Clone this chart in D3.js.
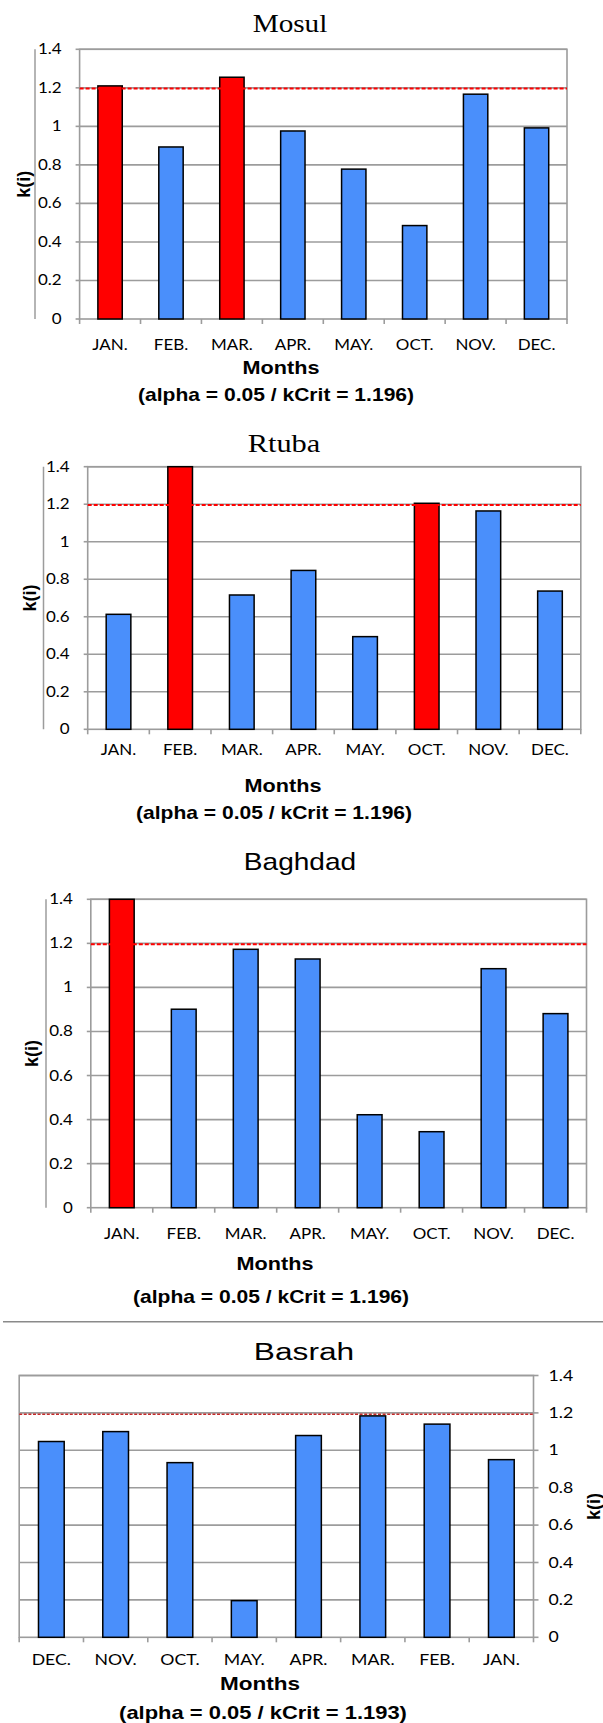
<!DOCTYPE html>
<html>
<head>
<meta charset="utf-8">
<script src="https://cdn.jsdelivr.net/npm/d3@7"></script>
<style>
  body { margin: 0; background: #fff; }
  svg { display: block; }
</style>
</head>
<body>
<div id="chart"></div>
<script>
"use strict";

// ---- data ----
const stationNames = ["Mosul", "Rtuba", "Baghdad", "Basrah"];
const monthsForward = ["JAN.", "FEB.", "MAR.", "APR.", "MAY.", "OCT.", "NOV.", "DEC."];
const monthsReversed = ["DEC.", "NOV.", "OCT.", "MAY.", "APR.", "MAR.", "FEB.", "JAN."];
const mosulValues = [1.21, 0.893, 1.255, 0.976, 0.778, 0.485, 1.167, 0.992];
const rtubaValues = [0.613, 1.4, 0.716, 0.847, 0.494, 1.205, 1.164, 0.737];
const baghdadValues = [1.4, 0.901, 1.173, 1.129, 0.422, 0.345, 1.085, 0.881];
const basrahValues = [1.047, 1.100, 0.934, 0.196, 1.079, 1.184, 1.140, 0.950];
const alphaLevel = 0.05;
const kCritValues = [1.196, 1.196, 1.196, 1.193];
const yTicks = [0, 0.2, 0.4, 0.6, 0.8, 1, 1.2, 1.4];
const yTickLabels = ["0", "0.2", "0.4", "0.6", "0.8", "1", "1.2", "1.4"];
const xAxisTitle = "Months";
const yAxisTitle = "k(i)";

// ---- layout (positions only) ----
const layouts = [
  { left: 79.6, right: 567, top: 49.3, bottom: 319, side: "left", axisLineX: 35, yTitleX: 30,
    titleX: 290, titleY: 32, titleFont: "'Liberation Serif', 'Times New Roman', serif", titleSize: 25, titleSx: 1.17,
    tickDy: 30.5, monthsX: 281, monthsY: 374, alphaX: 276, alphaY: 401, sx: 1.17,
    dash: "#ff0000", dashW: 2, dashArr: "4,2" },
  { left: 87.7, right: 580.8, top: 466.7, bottom: 729.3, side: "left", axisLineX: 43.5, yTitleX: 36,
    titleX: 284, titleY: 452, titleFont: "'Liberation Serif', 'Times New Roman', serif", titleSize: 26, titleSx: 1.17,
    tickDy: 25.5, monthsX: 283, monthsY: 791.5, alphaX: 274, alphaY: 819, sx: 1.17,
    dash: "#ff0000", dashW: 2, dashArr: "4,2" },
  { left: 90.8, right: 586.5, top: 899.3, bottom: 1207.7, side: "left", axisLineX: 46, yTitleX: 38,
    titleX: 300, titleY: 870, titleFont: "'Liberation Sans', Arial, sans-serif", titleSize: 24, titleSx: 1.17,
    tickDy: 31, monthsX: 275, monthsY: 1270, alphaX: 271, alphaY: 1303, sx: 1.17,
    dash: "#ff0000", dashW: 2, dashArr: "4,2" },
  { left: 19.2, right: 533.5, top: 1375.5, bottom: 1637.3, side: "right", axisLineX: null, yTitleX: 600,
    titleX: 304, titleY: 1360, titleFont: "'Liberation Sans', Arial, sans-serif", titleSize: 24, titleSx: 1.32,
    tickDy: 27.7, monthsX: 260, monthsY: 1690, alphaX: 263, alphaY: 1719, sx: 1.22,
    dash: "#c42a2a", dashW: 1.6, dashArr: "3,1.6" }
];

const gridColor = "#9c9c9c";
const blue = "#4a8ffb";
const red = "#ff0000";
const tickFont = "Lato, 'Open Sans', sans-serif";
const boldFont = "'Liberation Sans', Arial, sans-serif";

const svg = d3.select("#chart").append("svg")
  .attr("width", 603)
  .attr("height", 1723);

const seriesList = [mosulValues, rtubaValues, baghdadValues, basrahValues];
const monthLists = [monthsForward, monthsForward, monthsForward, monthsReversed];

for (let i = 0; i < 4; i++) {
  drawChart(stationNames[i], monthLists[i], seriesList[i], kCritValues[i], layouts[i]);
}

// separator line between Baghdad and Basrah
svg.append("line")
  .attr("x1", 3).attr("x2", 603)
  .attr("y1", 1321.7).attr("y2", 1321.7)
  .style("stroke", "#8a8a8a")
  .style("stroke-width", 1.5);

function addText(g, x, y, str, sx) {
  return g.append("text")
    .attr("transform", `translate(${x},${y}) scale(${sx},1)`)
    .text(str);
}

function drawChart(name, months, values, kCrit, L) {
  const g = svg.append("g");

  const x = d3.scaleBand()
    .domain(months)
    .range([L.left, L.right]);
  const y = d3.scaleLinear()
    .domain([0, 1.4])
    .range([L.bottom, L.top])
    .clamp(true);
  const bw = x.bandwidth();

  // gridlines
  g.selectAll(".grid").data(yTicks.slice(1))
    .join("line")
    .attr("x1", L.left).attr("x2", L.right)
    .attr("y1", d => y(d)).attr("y2", d => y(d))
    .style("stroke", gridColor)
    .style("stroke-width", 1.6);

  // plot frame
  g.append("rect")
    .attr("x", L.left).attr("y", L.top)
    .attr("width", L.right - L.left).attr("height", L.bottom - L.top)
    .style("fill", "none")
    .style("stroke", gridColor)
    .style("stroke-width", 1.6);

  // value-axis ticks
  const axisX = L.side === "left" ? L.left : L.right;
  const tickDir = L.side === "left" ? -4 : 5;
  g.selectAll(".ytick").data(yTicks)
    .join("line")
    .attr("x1", axisX).attr("x2", axisX + tickDir)
    .attr("y1", d => y(d)).attr("y2", d => y(d))
    .style("stroke", gridColor)
    .style("stroke-width", 1.6);

  // category ticks at band edges
  const edges = months.map(m => x(m)).concat([L.right]);
  g.selectAll(".xtick").data(edges)
    .join("line")
    .attr("x1", d => d).attr("x2", d => d)
    .attr("y1", L.bottom).attr("y2", L.bottom + 5)
    .style("stroke", gridColor)
    .style("stroke-width", 1.6);

  // stray axis line left of labels (as in the original)
  if (L.axisLineX !== null) {
    g.append("line")
      .attr("x1", L.axisLineX).attr("x2", L.axisLineX)
      .attr("y1", L.top).attr("y2", L.bottom)
      .style("stroke", gridColor)
      .style("stroke-width", 1.5);
  }

  // bars
  g.selectAll(".bar").data(values)
    .join("rect")
    .attr("x", (d, i) => x(months[i]) + bw * 0.3)
    .attr("y", d => y(d))
    .attr("width", bw * 0.4)
    .attr("height", d => y(0) - y(d))
    .style("fill", d => d > kCrit ? red : blue)
    .style("stroke", "#000")
    .style("stroke-width", 1.5);

  // critical value line
  g.append("line")
    .attr("x1", L.left).attr("x2", L.right)
    .attr("y1", y(kCrit)).attr("y2", y(kCrit))
    .style("stroke", L.dash)
    .style("stroke-width", L.dashW)
    .style("stroke-dasharray", L.dashArr);

  // y tick labels
  yTicks.forEach((t, i) => {
    const tx = L.side === "left" ? L.left - 18 : L.right + 15;
    addText(g, tx, y(t) + 5, yTickLabels[i], L.sx)
      .attr("text-anchor", L.side === "left" ? "end" : "start")
      .style("font-family", tickFont)
      .style("font-size", "14.5px")
      .style("fill", "#000");
  });

  // month labels
  months.forEach(m => {
    addText(g, x(m) + bw / 2, L.bottom + L.tickDy, m, L.sx)
      .attr("text-anchor", "middle")
      .style("font-family", tickFont)
      .style("font-size", "14.5px")
      .style("fill", "#000");
  });

  // title
  addText(g, L.titleX, L.titleY, name, L.titleSx)
    .attr("text-anchor", "middle")
    .style("font-family", L.titleFont)
    .style("font-size", L.titleSize + "px")
    .style("fill", "#000");

  // axis titles
  addText(g, L.monthsX, L.monthsY, xAxisTitle, L.sx)
    .attr("text-anchor", "middle")
    .style("font-family", boldFont)
    .style("font-weight", "bold")
    .style("font-size", "18.5px");

  addText(g, L.alphaX, L.alphaY, `(alpha = ${alphaLevel} / kCrit = ${kCrit})`, L.sx)
    .attr("text-anchor", "middle")
    .style("font-family", boldFont)
    .style("font-weight", "bold")
    .style("font-size", "18px");

  g.append("text")
    .attr("transform", `translate(${L.yTitleX},${(L.top + L.bottom) / 2}) rotate(-90)`)
    .attr("text-anchor", "middle")
    .style("font-family", boldFont)
    .style("font-weight", "bold")
    .style("font-size", "18px")
    .text(yAxisTitle);
}
</script>
</body>
</html>
